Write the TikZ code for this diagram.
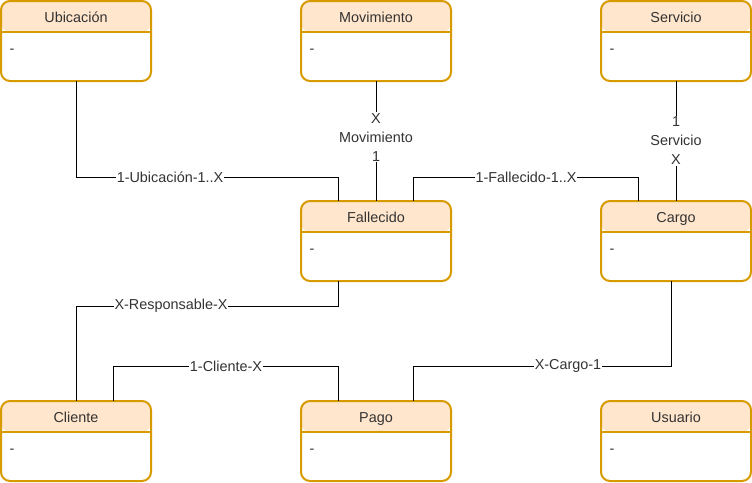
\documentclass[tikz,border=0pt]{standalone}
\usepackage{fontspec}
\setmainfont{Liberation Sans}
\usetikzlibrary{positioning}
\definecolor{entBorder}{HTML}{D79B00}
\definecolor{entHead}{HTML}{FFE6CC}
\definecolor{txtGray}{HTML}{333333}
\tikzset{%
  % Specifications for style of nodes:
  entity/.style = {rectangle, rounded corners=9pt, draw=entBorder,
    line width=2pt,
    minimum width=150pt,
    minimum height=80pt,
    inner sep=0pt, outer sep=0pt, fill=white,
    path picture={
      \fill[entHead] (path picture bounding box.north west) rectangle
        ([yshift=-31pt]path picture bounding box.north east);
      \draw[entBorder, line width=2pt]
        ([yshift=-31pt]path picture bounding box.north west) --
        ([yshift=-31pt]path picture bounding box.north east);}},
  entTitle/.style = {anchor=base, yshift=-21.5pt, text=txtGray,
    font=\fontsize{14.4}{17}\selectfont},
  entAttr/.style = {anchor=base west, xshift=5pt, yshift=-52pt, text=txtGray,
    font=\fontsize{14.4}{17}\selectfont},
  % Specifications for style of connectors:
  rel/.style = {draw=black, line width=1pt},
  card/.style = {fill=white, inner sep=1pt, text=txtGray, align=center,
    font=\fontsize{14.4}{19}\selectfont},
}

\begin{document}
\begin{tikzpicture}[x=1pt, y=1pt]
  \useasboundingbox (0,0) rectangle (752,-482);
  % Specification of nodes (position, etc.)
  \node(Ubic)[entity, label={[entTitle]north:Ubicación},
    label={[entAttr]north west:-}] at (76,-41) {};
  \node(Mov)[entity, right=150pt of Ubic, label={[entTitle]north:Movimiento},
    label={[entAttr]north west:-}] {};
  \node(Serv)[entity, right=150pt of Mov, label={[entTitle]north:Servicio},
    label={[entAttr]north west:-}] {};
  \node(Fall)[entity, below=120pt of Mov, label={[entTitle]north:Fallecido},
    label={[entAttr]north west:-}] {};
  \node(Cargo)[entity, below=120pt of Serv, label={[entTitle]north:Cargo},
    label={[entAttr]north west:-}] {};
  \node(Cli)[entity, below=320pt of Ubic, label={[entTitle]north:Cliente},
    label={[entAttr]north west:-}] {};
  \node(Pago)[entity, below=120pt of Fall, label={[entTitle]north:Pago},
    label={[entAttr]north west:-}] {};
  \node(Usu)[entity, below=120pt of Cargo, label={[entTitle]north:Usuario},
    label={[entAttr]north west:-}] {};
  % Relations
  \draw[rel](Ubic.south) -- ++(0,-96)
    -| node[card, pos=0.179]{1-Ubicación-1..X} ([xshift=-37.5pt]Fall.north);
  \draw[rel](Mov) -- node[card, pos=0.47]{X\\Movimiento\\1} (Fall);
  \draw[rel]([xshift=37.5pt]Fall.north) -- ++(0,24)
    -| node[card, pos=0.25]{1-Fallecido-1..X} ([xshift=-37.5pt]Cargo.north);
  \draw[rel](Serv) -- node[card]{1\\Servicio\\X} (Cargo);
  \draw[rel]([xshift=-37.5pt]Fall.south) -- ++(0,-25)
    -| node[card, pos=0.319]{X-Responsable-X} (Cli.north);
  \draw[rel]([xshift=37.5pt]Cli.north) -- ++(0,35)
    -| node[card, pos=0.25]{1-Cliente-X} ([xshift=-37.5pt]Pago.north);
  \draw[rel]([xshift=-5pt]Cargo.south) -- ++(0,-85)
    -| node[card, pos=0.2]{X-Cargo-1} ([xshift=37.5pt]Pago.north);
\end{tikzpicture}
\end{document}
